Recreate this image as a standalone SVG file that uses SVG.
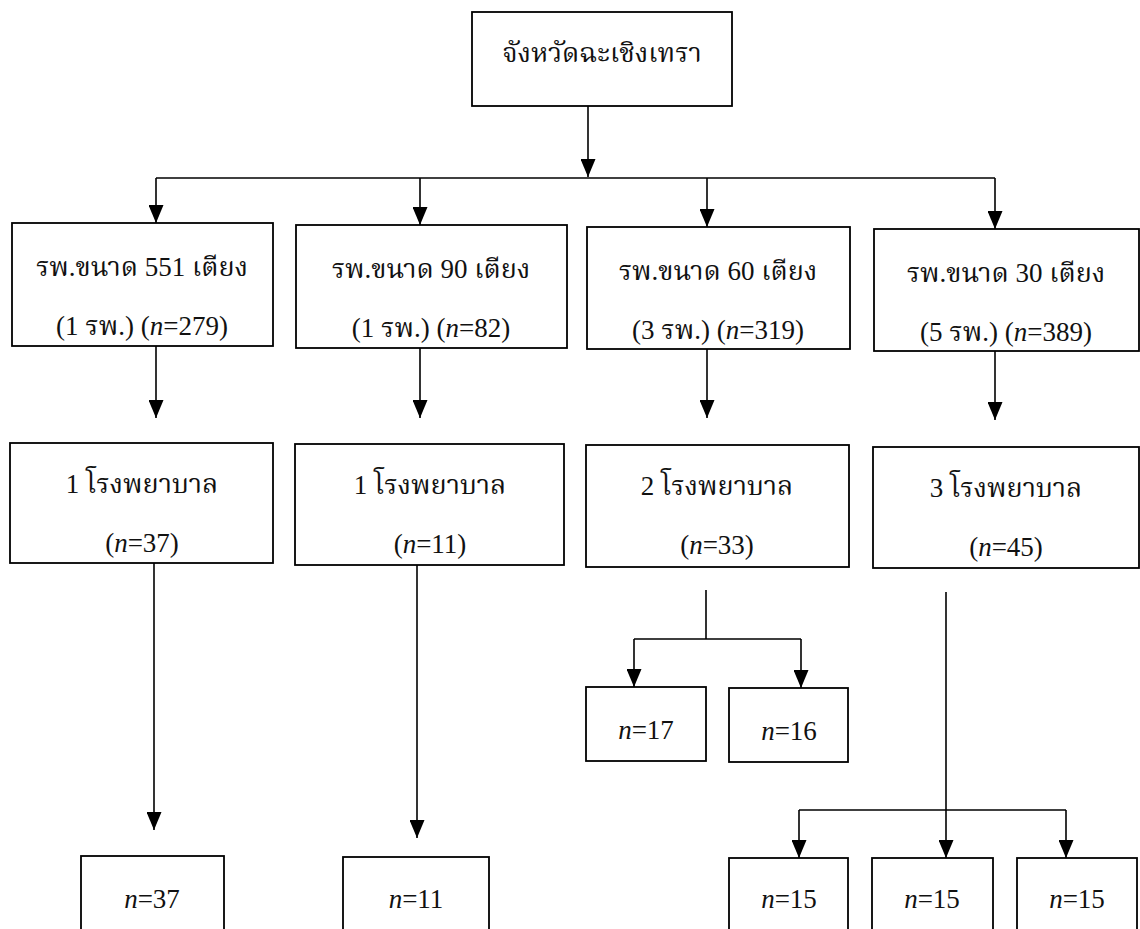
<svg xmlns="http://www.w3.org/2000/svg" width="1140" height="929" viewBox="0 0 1140 929">
<style>
.box{fill:#fff;stroke:#000;stroke-width:1.8}
.t{font-family:"Liberation Serif","Noto Serif Thai","Noto Sans Thai","Angsana New",serif;font-size:27px;fill:#111;text-anchor:middle}
.n{font-family:"Liberation Serif",serif;font-size:27px;fill:#111;text-anchor:middle}
.i{font-style:italic}
.c{fill:none;stroke:#000;stroke-width:1.6}
</style>
<defs>
<marker id="ah" viewBox="0 0 18 15" refX="18" refY="7.5" markerWidth="18" markerHeight="15" markerUnits="userSpaceOnUse" orient="auto">
<path d="M0,0 L18,7.5 L0,15 z" fill="#000"/>
</marker>
</defs>
<rect width="1140" height="929" fill="#fff"/>
<g id="connectors">
<path class="c" d="M588,106 V177" marker-end="url(#ah)"/>
<path class="c" d="M156,178 H995"/>
<path class="c" d="M156,178 V223" marker-end="url(#ah)"/>
<path class="c" d="M420,178 V225" marker-end="url(#ah)"/>
<path class="c" d="M707,178 V227" marker-end="url(#ah)"/>
<path class="c" d="M995,178 V229" marker-end="url(#ah)"/>
<path class="c" d="M156,346 V418" marker-end="url(#ah)"/>
<path class="c" d="M420,348 V418" marker-end="url(#ah)"/>
<path class="c" d="M707,349 V418" marker-end="url(#ah)"/>
<path class="c" d="M995,351 V420" marker-end="url(#ah)"/>
<path class="c" d="M154,563 V830" marker-end="url(#ah)"/>
<path class="c" d="M417,565 V838" marker-end="url(#ah)"/>
<path class="c" d="M706,590 V639 M634,639 H801"/>
<path class="c" d="M634,639 V687" marker-end="url(#ah)"/>
<path class="c" d="M801,639 V688" marker-end="url(#ah)"/>
<path class="c" d="M946,592 V858" marker-end="url(#ah)"/>
<path class="c" d="M799,810 H1066"/>
<path class="c" d="M799,810 V858" marker-end="url(#ah)"/>
<path class="c" d="M1066,810 V858" marker-end="url(#ah)"/>
</g>
<g id="province">
<rect class="box" x="472" y="12" width="260" height="94"/>
<text class="t" x="602" y="62">จังหวัดฉะเชิงเทรา</text>
</g>
<g id="h551">
<rect class="box" x="12" y="223" width="261" height="123"/>
<text class="t" x="142" y="276">รพ.ขนาด 551 เตียง</text>
<text class="t" x="142" y="335">(1 รพ.) (<tspan class="i">n</tspan>=279)</text>
</g>
<g id="h90">
<rect class="box" x="296" y="225" width="271" height="123"/>
<text class="t" x="431" y="278">รพ.ขนาด 90 เตียง</text>
<text class="t" x="431" y="337">(1 รพ.) (<tspan class="i">n</tspan>=82)</text>
</g>
<g id="h60">
<rect class="box" x="587" y="227" width="263" height="122"/>
<text class="t" x="718" y="280">รพ.ขนาด 60 เตียง</text>
<text class="t" x="718" y="339">(3 รพ.) (<tspan class="i">n</tspan>=319)</text>
</g>
<g id="h30">
<rect class="box" x="874" y="229" width="265" height="122"/>
<text class="t" x="1006" y="282">รพ.ขนาด 30 เตียง</text>
<text class="t" x="1006" y="341">(5 รพ.) (<tspan class="i">n</tspan>=389)</text>
</g>
<g id="s1">
<rect class="box" x="10" y="443" width="263" height="120"/>
<text class="t" x="142" y="493">1 โรงพยาบาล</text>
<text class="t" x="142" y="552">(<tspan class="i">n</tspan>=37)</text>
</g>
<g id="s2">
<rect class="box" x="295" y="444" width="269" height="121"/>
<text class="t" x="430" y="494">1 โรงพยาบาล</text>
<text class="t" x="430" y="553">(<tspan class="i">n</tspan>=11)</text>
</g>
<g id="s3">
<rect class="box" x="586" y="445" width="263" height="122"/>
<text class="t" x="717" y="495">2 โรงพยาบาล</text>
<text class="t" x="717" y="554">(<tspan class="i">n</tspan>=33)</text>
</g>
<g id="s4">
<rect class="box" x="873" y="447" width="266" height="121"/>
<text class="t" x="1006" y="497">3 โรงพยาบาล</text>
<text class="t" x="1006" y="556">(<tspan class="i">n</tspan>=45)</text>
</g>
<g id="n17">
<rect class="box" x="586" y="687" width="120" height="74"/>
<text class="n" x="646" y="739"><tspan class="i">n</tspan>=17</text>
</g>
<g id="n16">
<rect class="box" x="729" y="688" width="119" height="74"/>
<text class="n" x="789" y="740"><tspan class="i">n</tspan>=16</text>
</g>
<g id="n37">
<rect class="box" x="81" y="856" width="143" height="80"/>
<text class="n" x="152" y="908"><tspan class="i">n</tspan>=37</text>
</g>
<g id="n11">
<rect class="box" x="343" y="857" width="146" height="80"/>
<text class="n" x="416" y="908"><tspan class="i">n</tspan>=11</text>
</g>
<g id="n15a">
<rect class="box" x="729" y="858" width="119" height="80"/>
<text class="n" x="789" y="908"><tspan class="i">n</tspan>=15</text>
</g>
<g id="n15b">
<rect class="box" x="872" y="858" width="121" height="80"/>
<text class="n" x="932" y="908"><tspan class="i">n</tspan>=15</text>
</g>
<g id="n15c">
<rect class="box" x="1017" y="858" width="120" height="80"/>
<text class="n" x="1077" y="908"><tspan class="i">n</tspan>=15</text>
</g>
</svg>
